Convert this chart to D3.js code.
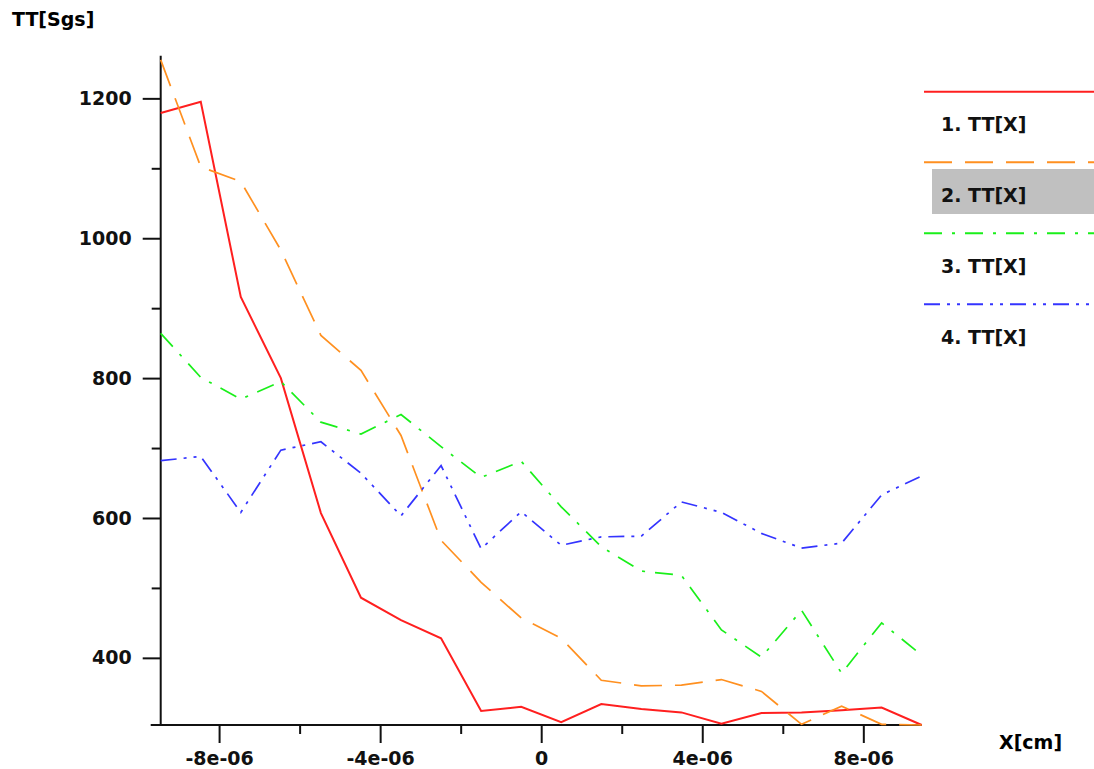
<!DOCTYPE html>
<html>
<head>
<meta charset="utf-8">
<script src="https://cdn.jsdelivr.net/npm/d3@7"></script>
<style>
  body { margin: 0; background: #fff; }
  text { font-family: "DejaVu Sans", sans-serif; font-weight: bold; }
</style>
</head>
<body>
<div id="chart"></div>
<script>
// x positions (cm)
const xs = [-9.45e-6, -8.455e-6, -7.461e-6, -6.466e-6, -5.471e-6, -4.476e-6, -3.482e-6, -2.487e-6, -1.492e-6, -0.497e-6,
            0.497e-6, 1.492e-6, 2.487e-6, 3.482e-6, 4.476e-6, 5.471e-6, 6.466e-6, 7.461e-6, 8.455e-6, 9.45e-6];

const tt1 = [1179, 1195, 916, 800, 607, 486, 454, 428, 324, 330, 308, 334, 327, 322, 306, 321, 322, 325, 329, 304];
const tt2 = [1255, 1102, 1081, 983, 861, 811, 718, 568, 508, 457, 428, 368, 360, 361, 369, 352, 305, 331, 305, 304];
const tt3 = [864, 801, 770, 795, 737, 720, 748, 702, 658, 681, 616, 559, 524, 518, 440, 401, 468, 378, 450, 404];
const tt4 = [682, 688, 608, 697, 709, 664, 603, 675, 556, 609, 561, 573, 574, 623, 608, 578, 557, 564, 633, 660];

const seriesNames = ["1. TT[X]", "2. TT[X]", "3. TT[X]", "4. TT[X]"];
const colors = ["#ff1f1f", "#ff9020", "#1aef1a", "#3434ff"];
const dashes = [null, "28,13", "18,10,3,10", "16,7,3,7,3,7"];

const yDomain = [304, 1261];
const yMajor = [400, 600, 800, 1000, 1200];
const yMinor = [500, 700, 900, 1100];
const xMajor = [-8e-6, -4e-6, 0, 4e-6, 8e-6];
const xMajorLabels = ["-8e-06", "-4e-06", "0", "4e-06", "8e-06"];
const xMinor = [-6e-6, -2e-6, 2e-6, 6e-6];

const width = 1094, height = 769;
const plotLeft = 160.7, plotRight = 921.7, plotTop = 55.7, plotBottom = 725;

const svg = d3.select("#chart").append("svg")
  .attr("width", width)
  .attr("height", height);

const x = d3.scaleLinear().domain(d3.extent(xs)).range([plotLeft, plotRight]);
const y = d3.scaleLinear().domain(yDomain).range([plotBottom, plotTop]);

// axis lines
svg.append("line")
  .attr("x1", plotLeft).attr("x2", plotLeft).attr("y1", plotTop).attr("y2", plotBottom)
  .attr("stroke", "#111").attr("stroke-width", 2);
svg.append("line")
  .attr("x1", plotLeft - 10).attr("x2", plotRight).attr("y1", plotBottom).attr("y2", plotBottom)
  .attr("stroke", "#111").attr("stroke-width", 2);

svg.append("g")
  .attr("transform", `translate(${plotLeft},0)`)
  .call(d3.axisLeft(y).tickValues(yMajor).tickSize(18).tickPadding(11).tickFormat(d3.format("d")));
svg.append("g")
  .attr("transform", `translate(${plotLeft},0)`)
  .call(d3.axisLeft(y).tickValues(yMinor).tickSize(9).tickFormat(""));

svg.append("g")
  .attr("transform", `translate(0,${plotBottom})`)
  .call(d3.axisBottom(x).tickValues(xMajor).tickSize(18).tickPadding(9)
    .tickFormat((d, i) => xMajorLabels[i]));
svg.append("g")
  .attr("transform", `translate(0,${plotBottom})`)
  .call(d3.axisBottom(x).tickValues(xMinor).tickSize(9).tickFormat(""));

svg.selectAll(".domain").remove();
svg.selectAll(".tick line").attr("stroke", "#111").attr("stroke-width", 2);
svg.selectAll(".tick text")
  .attr("fill", "#111")
  .style("font-size", "19px")
  .style("font-family", "DejaVu Sans")
  .style("font-weight", "bold");

// axis titles
svg.append("text")
  .attr("x", 12).attr("y", 26)
  .style("font-size", "19px")
  .text("TT[Sgs]");
svg.append("text")
  .attr("x", 999).attr("y", 749)
  .style("font-size", "19px")
  .text("X[cm]");

// lines
const all = [tt1, tt2, tt3, tt4];
const line = d3.line().x((d, i) => x(xs[i])).y(d => y(d));

svg.append("g")
  .selectAll("path")
  .data(all)
  .join("path")
  .attr("fill", "none")
  .attr("stroke", (d, i) => colors[i])
  .attr("stroke-width", (d, i) => i === 0 ? 2 : 1.7)
  .attr("stroke-dasharray", (d, i) => dashes[i])
  .attr("d", line);

// legend
const legend = svg.append("g");
const legendY = [91.7, 162.3, 233.3, 304.3];

legend.append("rect")
  .attr("x", 932).attr("y", 169)
  .attr("width", width - 932).attr("height", 45)
  .attr("fill", "#c0c0c0");

legend.selectAll("line")
  .data(seriesNames)
  .join("line")
  .attr("x1", 924).attr("x2", width)
  .attr("y1", (d, i) => legendY[i]).attr("y2", (d, i) => legendY[i])
  .attr("stroke", (d, i) => colors[i])
  .attr("stroke-width", 2)
  .attr("stroke-dasharray", (d, i) => dashes[i]);

legend.selectAll("text")
  .data(seriesNames)
  .join("text")
  .attr("x", 941)
  .attr("y", (d, i) => legendY[i] + 34)
  .attr("dominant-baseline", "middle")
  .style("font-size", "19px")
  .attr("fill", "#111")
  .text(d => d);
</script>
</body>
</html>
